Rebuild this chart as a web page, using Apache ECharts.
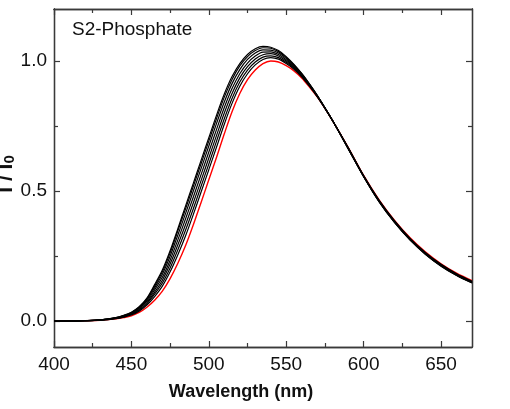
<!DOCTYPE html>
<html><head><meta charset="utf-8">
<script src="https://cdn.jsdelivr.net/npm/echarts@6/dist/echarts.min.js"></script>
<style>html,body{margin:0;padding:0;background:#fff}#c{width:510px;height:409px}</style>
</head><body><div id="c"></div>
<script>
const wavelengths = [400,410,420,430,440,445,450,455,460,465,470,475,480,485,490,495,500,505,510,515,520,525,530,535,540,545,550,555,560,565,570,575,580,590,600,610,620,630,640,650,660,670];
const redSeries = [0,0,0.001,0.003,0.008,0.013,0.02,0.033,0.053,0.08,0.115,0.163,0.222,0.29,0.37,0.456,0.543,0.63,0.72,0.805,0.875,0.928,0.965,0.99,1.0,0.996,0.982,0.962,0.935,0.9,0.862,0.818,0.77,0.668,0.56,0.466,0.387,0.32,0.265,0.22,0.184,0.155];
const black1 = [0,0,0.001,0.003,0.009,0.015,0.023,0.038,0.061,0.094,0.134,0.189,0.255,0.328,0.41,0.496,0.582,0.669,0.757,0.837,0.903,0.951,0.985,1.006,1.013,1.007,0.99,0.968,0.939,0.903,0.863,0.818,0.77,0.667,0.559,0.464,0.385,0.318,0.263,0.218,0.182,0.153];
const black2 = [0,0,0.001,0.003,0.01,0.016,0.025,0.041,0.066,0.103,0.146,0.204,0.274,0.35,0.432,0.518,0.604,0.692,0.778,0.856,0.919,0.965,0.996,1.015,1.02,1.013,0.995,0.972,0.941,0.905,0.864,0.819,0.77,0.666,0.558,0.463,0.384,0.317,0.262,0.217,0.181,0.152];
const black3 = [0,0,0.001,0.004,0.011,0.018,0.027,0.044,0.071,0.111,0.157,0.219,0.293,0.371,0.455,0.54,0.627,0.714,0.8,0.875,0.935,0.978,1.008,1.024,1.028,1.019,1.0,0.975,0.944,0.906,0.865,0.819,0.77,0.666,0.557,0.462,0.382,0.315,0.26,0.215,0.179,0.15];
const black4 = [0,0,0.001,0.004,0.011,0.019,0.029,0.048,0.076,0.12,0.168,0.234,0.312,0.393,0.477,0.563,0.65,0.737,0.821,0.894,0.951,0.992,1.019,1.034,1.035,1.025,1.005,0.979,0.946,0.908,0.866,0.819,0.77,0.665,0.557,0.461,0.381,0.314,0.259,0.214,0.178,0.149];
const black5 = [0,0,0.001,0.004,0.012,0.02,0.031,0.051,0.081,0.128,0.18,0.249,0.331,0.414,0.5,0.586,0.673,0.76,0.842,0.913,0.967,1.006,1.031,1.043,1.042,1.031,1.01,0.982,0.949,0.91,0.867,0.82,0.77,0.664,0.556,0.46,0.38,0.313,0.258,0.213,0.177,0.148];
const black6 = [0,0,0.001,0.004,0.013,0.021,0.033,0.053,0.085,0.135,0.189,0.262,0.347,0.432,0.518,0.605,0.692,0.779,0.861,0.929,0.981,1.017,1.04,1.051,1.049,1.036,1.014,0.985,0.951,0.911,0.868,0.82,0.77,0.663,0.556,0.459,0.379,0.312,0.257,0.212,0.176,0.147];
const black7 = [0,0,0.001,0.004,0.013,0.022,0.034,0.055,0.088,0.14,0.196,0.27,0.355,0.443,0.53,0.618,0.705,0.792,0.873,0.94,0.99,1.025,1.047,1.056,1.053,1.04,1.017,0.987,0.952,0.912,0.868,0.82,0.77,0.663,0.555,0.458,0.378,0.311,0.256,0.211,0.175,0.146];
const blackSeries = [black1, black2, black3, black4, black5, black6, black7];
const xTickValues = [400,450,500,550,600,650];
const xMinorValues = [425,475,525,575,625];
const yTickValues = [0,0.5,1.0];
const yMinorValues = [0.25,0.75];
const labelText = 'S2-Phosphate';
const xTitle = 'Wavelength (nm)';
const yTitleMain = 'I / I';
const yTitleSub = '0';

const chart = echarts.init(document.getElementById('c'));
const FONT = 'Liberation Sans, Arial, sans-serif';
const AX = '#3a3a3a';
function pairs(arr){ return wavelengths.map((w,i)=>[w,arr[i]]); }
function mkX(pos, showLabel, ticks, len, withName){
  return {type:'value', position:pos, min:400, max:670,
    axisLine:{show:true, onZero:false, lineStyle:{color:AX, width:1.3}},
    axisTick:{show:true, inside:true, length:len, customValues:ticks, lineStyle:{color:AX, width:1.2}},
    axisLabel:{show:showLabel, customValues:xTickValues, margin:8, fontSize:19, fontFamily:FONT, color:'#111'},
    splitLine:{show:false},
    name: withName ? xTitle : '', nameLocation:'middle', nameGap:36,
    nameTextStyle:{fontSize:18, fontWeight:'bold', fontFamily:FONT, color:'#111', padding:[0,44,0,0]}
  };
}
function mkY(pos, showLabel, ticks, len){
  return {type:'value', position:pos, min:-0.1, max:1.2,
    axisLine:{show:true, onZero:false, lineStyle:{color:AX, width:1.3}},
    axisTick:{show:true, inside:true, length:len, customValues:ticks, lineStyle:{color:AX, width:1.2}},
    axisLabel:{show:showLabel, customValues:yTickValues, margin:7, fontSize:19, fontFamily:FONT, color:'#111',
      formatter:(v)=>v.toFixed(1)},
    splitLine:{show:false}
  };
}
const series = [];
blackSeries.forEach((arr,i)=>{
  series.push({type:'line', data:pairs(arr), showSymbol:false, smooth:0.3, xAxisIndex:0, yAxisIndex:0,
    lineStyle:{color:'#000', width:1.2}, z:2, silent:true, animation:false});
});
series.push({type:'line', data:pairs(redSeries), showSymbol:false, smooth:0.3, xAxisIndex:0, yAxisIndex:0,
  lineStyle:{color:'#ff0000', width:1.4}, z:1, silent:true, animation:false});

chart.setOption({
  animation:false,
  grid:{left:54, right:38, top:9, bottom:62, containLabel:false, outerBoundsMode:'none'},
  xAxis:[
    mkX('bottom', true, xTickValues, 6, true),
    mkX('bottom', false, xMinorValues, 4, false),
    mkX('top', false, xTickValues, 6, false),
    mkX('top', false, xMinorValues, 4, false)
  ],
  yAxis:[
    mkY('left', true, yTickValues, 6),
    mkY('left', false, yMinorValues, 4),
    mkY('right', false, yTickValues, 6),
    mkY('right', false, yMinorValues, 4)
  ],
  graphic:[
    {type:'text', left:72, top:20, style:{text:labelText, fontSize:19, fontFamily:FONT, fill:'#111'}},
    {type:'text', x:6, y:174, rotation:Math.PI/2,
      style:{text:'{a|'+yTitleMain+'}{b|'+yTitleSub+'}', align:'center', verticalAlign:'middle',
        rich:{a:{fontSize:21, fontWeight:'bold', fontFamily:FONT, fill:'#111'},
              b:{fontSize:15, fontWeight:'bold', fontFamily:FONT, fill:'#111', padding:[8,0,0,0]}}}}
  ],
  series: series
});
</script></body></html>
